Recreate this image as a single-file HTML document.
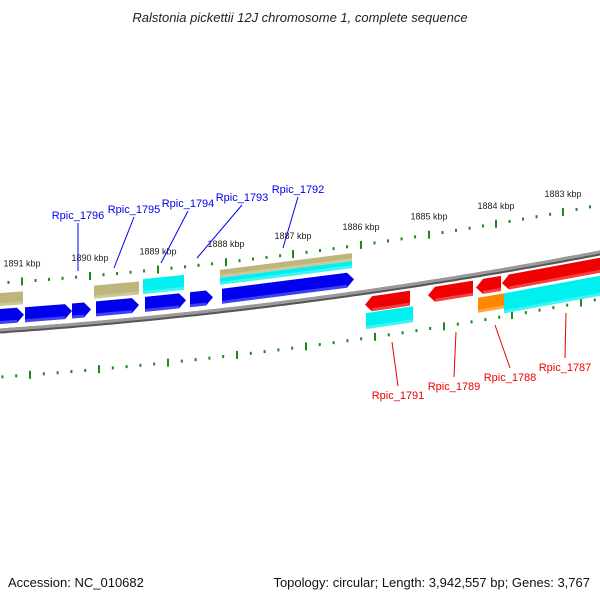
<!DOCTYPE html>
<html><head><meta charset="utf-8"><style>
html,body{margin:0;padding:0;background:#fff}
svg{display:block;font-family:"Liberation Sans",sans-serif}
</style></head><body>
<svg id="c" width="600" height="600" viewBox="0 0 600 600">
<text x="300" y="22" text-anchor="middle" font-size="13" font-style="italic" fill="#222">Ralstonia pickettii 12J chromosome 1, complete sequence</text>
<text x="8" y="587" font-size="13" fill="#111">Accession: NC_010682</text>
<text x="590" y="587" text-anchor="end" font-size="13" fill="#111">Topology: circular; Length: 3,942,557 bp; Genes: 3,767</text>
</svg>
<script>
// data
const upperTickKbp=[1891,1890,1889,1888,1887,1886,1885,1884,1883];
const upperTickX=[22,90,158,226,293,361,429,496,563];
const lowerTickX=[30,99,168,237,306,375,444,512,581];
const geneStart=[0,25,72,96,145,190,222, 0,94,143,220,220, 365,428,476,502, 366,478,504];
const geneEnd  =[24,72,91,139,186,213,354, 23,139,184,352,352, 410,473,501,620, 413,504,620];
const geneKind =['cds','cds','cds','cds','cds','cds','cds','mrna','mrna','misc','mrna2','misc2','rev','rev','rev','rev','revmisc','revorange','revmisc2'];
const labelNames=['Rpic_1796','Rpic_1795','Rpic_1794','Rpic_1793','Rpic_1792','Rpic_1791','Rpic_1789','Rpic_1788','Rpic_1787'];
const labelTX=[78,134,188,242,298,398,454,510,565];
const labelTY=[219,213,207,201,193,399,390,381,371];
const leaderX2=[78,114,161,197,283,392,456,495,566];
const leaderY2=[271,268,263,258,248,342,332,325,313];

const NS='http://www.w3.org/2000/svg';
const svg=document.getElementById('c');
function yc(x){return 330-0.0689*x-0.0001019*x*x;}
function mk(t,a,p){const e=document.createElementNS(NS,t);for(const k in a)e.setAttribute(k,a[k]);(p||svg).appendChild(e);return e;}

// backbone
let d='';for(let x=-5;x<=605;x+=5){d+=(x==-5?'M':'L')+x+','+yc(x).toFixed(1);}
let bb=mk('path',{d:d,stroke:'#555',"stroke-width":5,fill:'none',transform:'translate(0,1)'});


let bb2=mk('path',{d:d,stroke:'#9a9a9a',"stroke-width":3,fill:'none'});



// ticks
function tickRow(xs,off,spacing,name){
  for(let i=0;i<xs.length;i++){
    const x=xs[i];
    const l=mk('line',{x1:x,y1:yc(x)+off-4,x2:x,y2:yc(x)+off+4,stroke:'#1a8a1a',"stroke-width":2});
    
    
    for(let j=1;j<5;j++){
      for(const s of [-1,1]){
        if(s==-1 && i>0) continue;
        const xm=x+s*j*spacing/5;
        if(xm<0||xm>600)continue;
        const r=mk('rect',{x:xm-1,y:yc(xm)+off-1.5,width:2,height:3,fill:'#1a8a1a'});
        
        
      }
    }
  }
}
tickRow(upperTickX,-47,67.6,'upper');
tickRow(lowerTickX,47,69,'lower');
for(let i=0;i<upperTickKbp.length;i++){
  const x=upperTickX[i];
  const t=mk('text',{x:x,y:yc(x)-47-15,"text-anchor":'middle',"font-size":9,fill:'#222'});
  t.textContent=upperTickKbp[i]+' kbp';
  
  
}

// genes
const styles={
 cds:{o1:-21,o2:-6,c:'#0000ee',dir:1},
 mrna:{o1:-37,o2:-24,c:'#bdb57a',dir:0},
 misc:{o1:-39,o2:-24,c:'#00f0f0',dir:0},
 mrna2:{o1:-40,o2:-32,c:'#bdb57a',dir:0},
 misc2:{o1:-32,o2:-25,c:'#00f0f0',dir:0},
 rev:{o1:6,o2:21,c:'#f00000',dir:-1},
 revmisc:{o1:22,o2:38,c:'#00f0f0',dir:0},
 revmisc2:{o1:24,o2:44,c:'#00f0f0',dir:0},
 revorange:{o1:24,o2:39,c:'#ff8800',dir:0}
};
function pt(x,o){return x.toFixed(1)+','+(yc(x)+o).toFixed(1);}
for(let i=0;i<geneStart.length;i++){
  const s=styles[geneKind[i]],a=geneStart[i],b=geneEnd[i];
  let pts;
  const m=(s.o1+s.o2)/2,h=Math.min(7,(b-a)*0.4);
  if(s.dir==1) pts=[pt(a,s.o1),pt(b-h,s.o1),pt(b,m),pt(b-h,s.o2),pt(a,s.o2)];
  else if(s.dir==-1) pts=[pt(a+h,s.o1),pt(b,s.o1),pt(b,s.o2),pt(a+h,s.o2),pt(a,m)];
  else pts=[pt(a,s.o1),pt(b,s.o1),pt(b,s.o2),pt(a,s.o2)];
  const g=mk('polygon',{points:pts.join(' '),fill:s.c});
  
  
  const hl=mk('polygon',{points:[pt(a+(s.dir==-1?h:0),s.o2-3),pt(b-(s.dir==1?h:0),s.o2-3),pt(b-(s.dir==1?h:0),s.o2),pt(a+(s.dir==-1?h:0),s.o2)].join(' '),fill:'#fff',opacity:0.25});
  
  
}

// labels
for(let i=0;i<labelNames.length;i++){
  const col=i<5?'#0000ee':'#ee0000';
  const up=i<5;
  const l=mk('line',{x1:labelTX[i],y1:up?labelTY[i]+4:labelTY[i]-13,x2:leaderX2[i],y2:leaderY2[i],stroke:col,"stroke-width":1});
  
  
  const t=mk('text',{x:labelTX[i],y:labelTY[i],"text-anchor":'middle',"font-size":11,fill:col});
  t.textContent=labelNames[i];
  
  
}
</script>
</body></html>
